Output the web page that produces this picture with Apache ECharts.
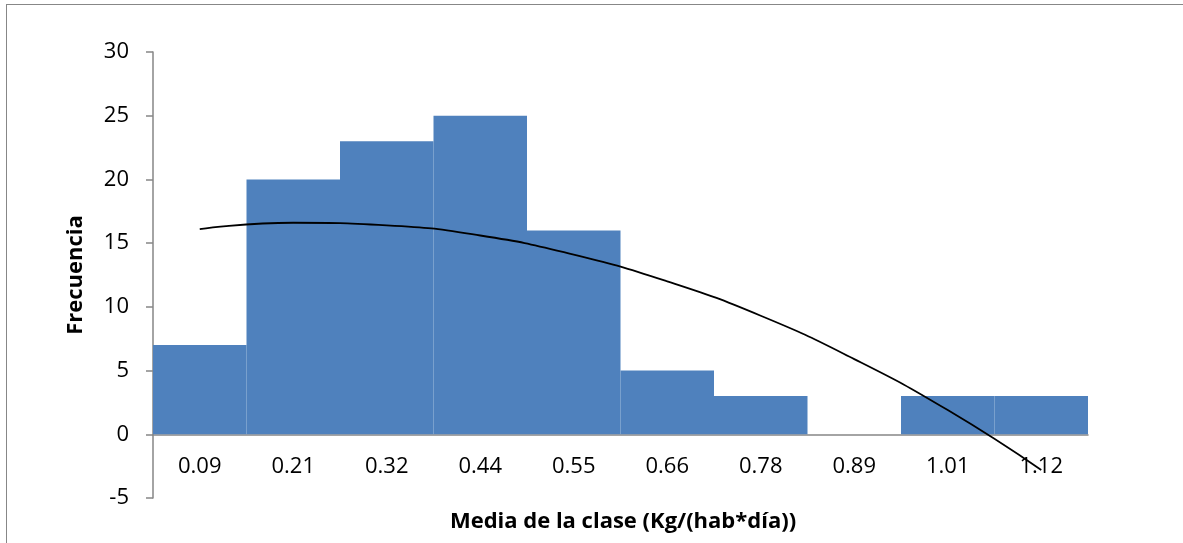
<!DOCTYPE html>
<html>
<head>
<meta charset="utf-8">
<script src="https://cdn.jsdelivr.net/npm/echarts@6/dist/echarts.min.js"></script>
<style>
html,body{margin:0;padding:0;background:#fff;}
#frame{position:absolute;left:6px;top:4px;width:1190px;height:560px;border:1.5px solid #878787;box-sizing:border-box;}
#chart{position:absolute;left:0;top:0;width:1183px;height:543px;}
</style>
</head>
<body>
<div id="frame"></div>
<div id="chart"></div>
<script>
const categories = ['0.09','0.21','0.32','0.44','0.55','0.66','0.78','0.89','1.01','1.12'];
const frecuencia = [7, 20, 23, 25, 16, 5, 3, 0, 3, 3];
const tendencia = [16.1, 16.6, 16.4, 15.6, 14.1, 12.0, 9.3, 5.9, 1.9, -2.8];
const yTicks = { min: -5, max: 30, interval: 5 };
const xTitle = 'Media de la clase (Kg/(hab*día))';
const yTitle = 'Frecuencia';

const chart = echarts.init(document.getElementById('chart'));
const font = "'Open Sans', 'Liberation Sans', sans-serif";
chart.setOption({
  animation: false,
  grid: { left: 153, right: 95, top: 52, bottom: 45, containLabel: false, outerBoundsMode: 'none' },
  xAxis: {
    type: 'category',
    data: categories,
    boundaryGap: true,
    position: 'bottom',
    offset: 0,
    axisLine: { onZero: false, lineStyle: { color: '#868686', width: 1.5 } },
    axisTick: { show: false },
    axisLabel: { color: '#000', fontSize: 22, fontFamily: font, margin: 21 }
  },
  yAxis: {
    type: 'value',
    min: yTicks.min, max: yTicks.max, interval: yTicks.interval,
    axisLine: { show: true, lineStyle: { color: '#868686', width: 1.5 } },
    axisTick: { show: true, length: 7, lineStyle: { color: '#868686', width: 1.5 } },
    splitLine: { show: false },
    axisLabel: { color: '#000', fontSize: 22, fontFamily: font, margin: 24 }
  },
  graphic: [
    { type: 'text', x: 623, y: 522, style: { text: xTitle, fill: '#000', font: "bold 22px " + font, align: 'center', verticalAlign: 'middle' } },
    { type: 'text', rotation: Math.PI / 2, x: 76, y: 275, style: { text: yTitle, fill: '#000', font: "bold 22px " + font, align: 'center', verticalAlign: 'middle' } }
  ],
  series: [
    {
      type: 'bar',
      data: frecuencia,
      barCategoryGap: '0%',
      itemStyle: { color: '#4F81BD' },
      z: 2
    },
    {
      type: 'line',
      data: tendencia,
      smooth: true,
      showSymbol: false,
      symbol: 'none',
      lineStyle: { color: '#000', width: 1.8 },
      z: 3
    }
  ]
});
// move the category axis (line and labels) up to the zero level of the value axis
const zeroY = chart.convertToPixel({ yAxisIndex: 0 }, 0);
const bottomY = chart.convertToPixel({ yAxisIndex: 0 }, yTicks.min);
chart.setOption({ xAxis: { offset: zeroY - bottomY } });
</script>
</body>
</html>
